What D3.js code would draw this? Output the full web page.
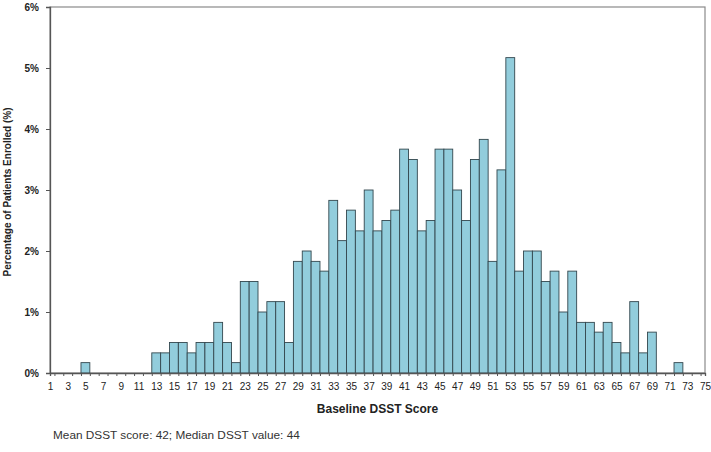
<!DOCTYPE html>
<html><head><meta charset="utf-8">
<script src="https://cdn.jsdelivr.net/npm/d3@7/dist/d3.min.js"></script>
<style>body{margin:0;background:#fff}svg{display:block}text{font-family:Arial,"Liberation Sans",sans-serif}</style>
</head><body><svg id="c" width="711" height="452"></svg>
<script>
// DSST scores (x categories)
const scores = d3.range(1, 76);
// Percentage of patients enrolled per score (%)
const percents = [
  0,0,0,0,0.17,0,0,0,0,0,
  0,0,0.33,0.33,0.5,0.5,0.33,0.5,0.5,0.83,
  0.5,0.17,1.5,1.5,1.0,1.17,1.17,0.5,1.83,2.0,
  1.83,1.67,2.83,2.17,2.67,2.33,3.0,2.33,2.5,2.67,
  3.67,3.5,2.33,2.5,3.67,3.67,3.0,2.5,3.5,3.83,
  1.83,3.33,5.17,1.67,2.0,2.0,1.5,1.67,1.0,1.67,
  0.83,0.83,0.67,0.83,0.5,0.33,1.17,0.33,0.67,0,
  0,0.17,0,0,0
];
const yTicks = [0,1,2,3,4,5,6];
const xTickLabels = d3.range(1, 76, 2);
const yTitle = "Percentage of Patients Enrolled (%)";
const xTitle = "Baseline DSST Score";
const footnote = "Mean DSST score: 42; Median DSST value: 44";

const data = scores.map((s, i) => ({s, v: percents[i]}));
const svg = d3.select("#c");
const L = 50, R = 705, T = 7, B = 373;
const x = d3.scaleLinear().domain([1, 75]).range([L, R]);
const y = d3.scaleLinear().domain([0, 6]).range([B, T]);

// plot frame
svg.append("rect").attr("x", L).attr("y", T).attr("width", R - L).attr("height", B - T)
  .attr("fill", "none").attr("stroke", "#8a8a8a").attr("stroke-width", 1.2);

// bars
svg.append("g").selectAll("rect").data(data.filter(d => d.v > 0)).join("rect")
  .attr("x", d => x(d.s - 0.5)).attr("width", d => x(d.s + 0.5) - x(d.s - 0.5))
  .attr("y", d => y(d.v)).attr("height", d => y(0) - y(d.v))
  .attr("fill", "#92CDDC").attr("stroke", "#33474e").attr("stroke-width", 0.9);

// y axis
const ya = svg.append("g").attr("transform", `translate(${L},0)`)
  .call(d3.axisLeft(y).tickValues(yTicks).tickFormat(d => d + "%").tickSize(4).tickPadding(7));
ya.select(".domain").attr("stroke", "#555").attr("stroke-width", 1.3);
ya.selectAll(".tick line").attr("stroke", "#555");
ya.selectAll(".tick text").attr("font-size", 10).attr("font-weight", "bold").attr("fill", "#222")
  .attr("font-family", "Arial, 'Liberation Sans', sans-serif");

// x axis: tick marks at bar boundaries, labels at odd scores
const xa = svg.append("g").attr("transform", `translate(0,${B})`)
  .call(d3.axisBottom(x).tickValues(d3.range(1.5, 75, 1)).tickFormat("").tickSize(3));
xa.select(".domain").attr("stroke", "#555").attr("stroke-width", 1.3);
xa.selectAll(".tick line").attr("stroke", "#555");
const xl = svg.append("g").attr("transform", `translate(0,${B})`)
  .call(d3.axisBottom(x).tickValues(xTickLabels).tickFormat(d3.format("d")).tickSize(0).tickPadding(10));
xl.select(".domain").remove();
xl.selectAll(".tick text").attr("font-size", 10).attr("fill", "#222")
  .attr("font-family", "Arial, 'Liberation Sans', sans-serif");

// titles
svg.append("text").attr("transform", `translate(11,${(T + B) / 2 + 2}) rotate(-90)`)
  .attr("text-anchor", "middle").attr("font-size", 10).attr("font-weight", "bold").attr("fill", "#222")
  .text(yTitle);
svg.append("text").attr("x", (L + R) / 2).attr("y", 413).attr("text-anchor", "middle")
  .attr("font-size", 12).attr("font-weight", "bold").attr("fill", "#222").text(xTitle);
svg.append("text").attr("x", 53).attr("y", 439).attr("font-size", 11.8).attr("fill", "#333").text(footnote);
</script></body></html>
